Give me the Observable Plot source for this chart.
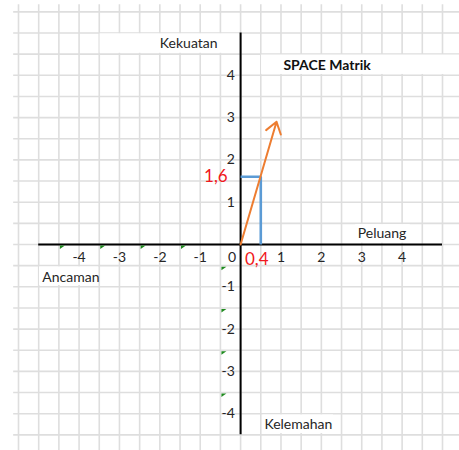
<!DOCTYPE html>
<html>
<head>
<meta charset="utf-8">
<script src="https://cdn.jsdelivr.net/npm/d3@7"></script>
<script src="https://cdn.jsdelivr.net/npm/@observablehq/plot@0.6"></script>
<style>
  html, body { margin: 0; padding: 0; background: #fff; }
</style>
</head>
<body>
<div id="chart"></div>
<script>
// ---- data ----
const xTicks = [-4, -3, -2, -1, 1, 2, 3, 4];
const yTicks = [4, 3, 2, 1, -1, -2, -3, -4];
const originTick = ["0"];
const guidePoint = [{ x: 0.5, y: 1.6 }];           // blue guide corner (as drawn)
const vectorTip = [{ x: 0.89, y: 2.9 }];           // orange arrow tip
const valueLabels = [
  { text: "1,6", x: -0.32, y: 1.6, anchor: "end" },
  { text: "0,4", x: 0.4, y: -0.36, anchor: "middle" }
];
const axisTitles = [
  { text: "Kekuatan", x: -0.57, y: 4.75, anchor: "end" },
  { text: "Peluang", x: 2.9, y: 0.26, anchor: "start" },
  { text: "Ancaman", x: -4.91, y: -0.78, anchor: "start" },
  { text: "Kelemahan", x: 0.59, y: -4.26, anchor: "start" }
];
const chartTitle = [{ text: "SPACE Matrik", x: 1.06, y: 4.23 }];
const textCells = [
  { x1: -3.48, x2: -0.02, y1: 4.52, y2: 4.98 },
  { x1: 0.52, x2: 5.45, y1: 4.02, y2: 4.48 },
  { x1: 2.85, x2: 4.2, y1: 0.03, y2: 0.47 },
  { x1: -4.98, x2: -3.52, y1: -0.53, y2: -0.97 },
  { x1: 0.55, x2: 2.3, y1: -4.03, y2: -4.47 }
];
const flagCellsX = [-4.5, -3.5, -2.5, -1.5];      // green indicators on x label row
const flagCellsY = [-0.5, -1.5, -2.5, -3.5];      // green indicators on y label column

// ---- layout helpers (sheet grid) ----
const gridX = d3.range(-5.5, 5.01, 0.5);
const gridY = d3.range(-4.5, 5.51, 0.5);

const cornerFlag = {
  draw(ctx) {
    ctx.moveTo(1, 1);
    ctx.lineTo(6, 1);
    ctx.lineTo(1, 4.5);
    ctx.closePath();
  }
};

const textColor = "#262626";
const anchoredText = (rows, opts) =>
  ["start", "middle", "end"].map(a =>
    Plot.text(rows.filter(d => d.anchor === a), { x: "x", y: "y", text: "text", textAnchor: a, ...opts })
  );

const chart = Plot.plot({
  width: 459,
  height: 450,
  margin: 0,
  x: { domain: [-5.946, 5.421], axis: null },
  y: { domain: [-4.870, 5.768], axis: null },
  style: { fontFamily: "Lato", fontSize: "14px", background: "#fff", color: textColor },
  marks: [
    // spreadsheet cell grid
    Plot.ruleX(gridX, { y1: 5.67, y2: -4.87, stroke: "#dedede", strokeWidth: 1.6 }),
    Plot.ruleY(gridY, { x1: -5.62, x2: 5.421, stroke: "#dedede", strokeWidth: 1.6 }),
    // cells hidden behind overflowing text
    Plot.rect(textCells, { x1: "x1", x2: "x2", y1: "y1", y2: "y2", fill: "#fff" }),
    // quadrant axes
    Plot.ruleX([0], { y1: 5.0, y2: -4.5, stroke: "#000", strokeWidth: 2 }),
    Plot.ruleY([0], { x1: -5.0, x2: 5.0, stroke: "#000", strokeWidth: 2 }),
    // green cell indicators
    Plot.dot(flagCellsX, { x: d => d, y: 0, symbol: cornerFlag, fill: "#1f8a1f", stroke: null }),
    Plot.dot(flagCellsY, { x: -0.5, y: d => d, symbol: cornerFlag, fill: "#1f8a1f", stroke: null }),
    // tick labels
    Plot.text(xTicks, { x: d => d, y: -0.31, text: d => String(d), fill: textColor, fontSize: 14 }),
    Plot.text(yTicks, { x: -0.14, y: d => d, text: d => String(d), textAnchor: "end", fill: textColor, fontSize: 14 }),
    Plot.text(originTick, { x: -0.11, y: -0.31, text: d => d, textAnchor: "end", fill: textColor, fontSize: 14 }),
    // axis titles
    ...anchoredText(axisTitles, { fill: textColor, fontSize: 14 }),
    Plot.text(chartTitle, { x: "x", y: "y", text: "text", textAnchor: "start", fill: "#111", fontSize: 14, fontWeight: "bold" }),
    // blue guides
    Plot.line(
      guidePoint.flatMap(p => [{ x: 0, y: p.y }, { x: p.x, y: p.y }, { x: p.x, y: 0 }]),
      { x: "x", y: "y", stroke: "#5b9bd5", strokeWidth: 2.6, strokeLinejoin: "miter", strokeLinecap: "butt" }
    ),
    // vector arrow
    Plot.arrow(vectorTip, { x1: 0, y1: 0, x2: "x", y2: "y", stroke: "#ed7d31", strokeWidth: 2, headLength: 10, headAngle: 70 }),
    // value labels
    ...anchoredText(valueLabels, { fill: "#f01820", fontSize: 17 })
  ]
});

document.getElementById("chart").appendChild(chart);
</script>
</body>
</html>
